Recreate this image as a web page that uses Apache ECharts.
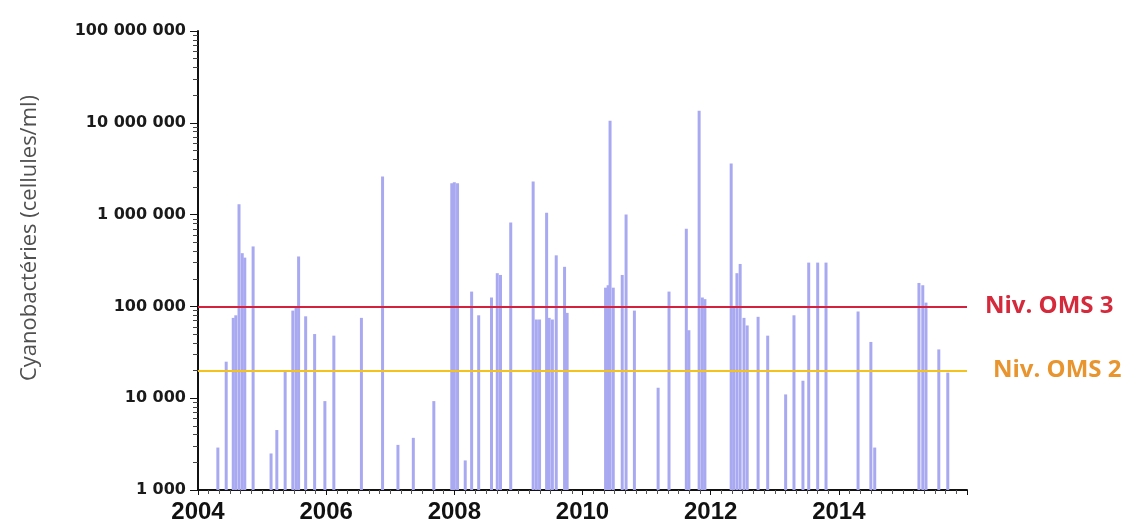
<!DOCTYPE html>
<html>
<head>
<meta charset="utf-8">
<script src="https://cdn.jsdelivr.net/npm/echarts@6/dist/echarts.min.js"></script>
<style>
  html, body { margin: 0; padding: 0; background: #fff; }
  #main { width: 1131px; height: 532px; }
</style>
</head>
<body>
<div id="main"></div>
<script>
// sample dates (decimal years) and counts
var sampleYears = [
  2004.31, 2004.44, 2004.55, 2004.59, 2004.64, 2004.69, 2004.73, 2004.86,
  2005.14, 2005.23, 2005.36, 2005.48, 2005.53, 2005.57, 2005.68, 2005.82, 2005.98,
  2006.12, 2006.55, 2006.88, 2007.12, 2007.36, 2007.68, 2007.96, 2008.00, 2008.05,
  2008.17, 2008.27, 2008.38, 2008.58, 2008.67, 2008.72, 2008.88,
  2009.23, 2009.28, 2009.33, 2009.44, 2009.48, 2009.53, 2009.59, 2009.72, 2009.76,
  2010.36, 2010.40, 2010.43, 2010.48, 2010.62, 2010.68, 2010.81,
  2011.18, 2011.35, 2011.62, 2011.66, 2011.82, 2011.87, 2011.91,
  2012.32, 2012.36, 2012.41, 2012.46, 2012.52, 2012.57, 2012.74, 2012.89,
  2013.17, 2013.30, 2013.44, 2013.53, 2013.67, 2013.80,
  2014.30, 2014.50, 2014.56, 2015.25, 2015.31, 2015.36, 2015.56, 2015.70
];
var sampleCounts = [
  2900, 25000, 75000, 80000, 1300000, 380000, 340000, 450000,
  2500, 4500, 20000, 90000, 100000, 350000, 78000, 50000, 9300,
  48000, 75000, 2600000, 3100, 3700, 9300, 2200000, 2250000, 2200000,
  2100, 145000, 80000, 125000, 230000, 220000, 820000,
  2300000, 72000, 72000, 1050000, 75000, 72000, 360000, 270000, 85000,
  160000, 170000, 10500000, 160000, 220000, 1000000, 90000,
  13000, 145000, 700000, 55000, 13500000, 125000, 120000,
  3600000, 100000, 230000, 290000, 75000, 62000, 77000, 48000,
  11000, 80000, 15500, 300000, 300000, 300000,
  88000, 41000, 2900, 180000, 170000, 110000, 34000, 19000
];

var yearTicks = [2004, 2006, 2008, 2010, 2012, 2014];
var omsLevels = [100000, 20000];
var omsNames = ['Niv. OMS 3', 'Niv. OMS 2'];

var chart = echarts.init(document.getElementById('main'));

function spaced(v) {
  return String(Math.round(v)).replace(/\B(?=(\d{3})+(?!\d))/g, ' ');
}

var option = {
  backgroundColor: '#fff',
  animation: false,
  grid: { left: 198, right: 164, top: 31, bottom: 42 },
  xAxis: {
    type: 'value',
    min: 2004,
    max: 2016,
    interval: 2,
    splitLine: { show: false },
    axisLine: { lineStyle: { color: '#111', width: 2 } },
    axisTick: { show: true, length: 5, lineStyle: { color: '#111' } },
    minorTick: { show: true, splitNumber: 12, length: 4, lineStyle: { color: '#555' } },
    axisLabel: {
      margin: 10,
      color: '#111',
      fontFamily: 'Liberation Sans',
      fontWeight: 'bold',
      fontSize: 24,
      formatter: function (v) { return yearTicks.indexOf(v) >= 0 ? String(v) : ''; }
    }
  },
  yAxis: {
    type: 'log',
    logBase: 10,
    min: 1000,
    max: 100000000,
    splitLine: { show: false },
    axisLine: { show: true, lineStyle: { color: '#111', width: 2 } },
    axisTick: { show: true, length: 8, lineStyle: { color: '#111' } },
    minorTick: { show: true, splitNumber: 9, length: 5, lineStyle: { color: '#444' } },
    axisLabel: {
      margin: 12,
      color: '#1a1a1a',
      fontFamily: 'DejaVu Sans',
      fontWeight: 'bold',
      fontSize: 16,
      formatter: spaced
    }
  },
  graphic: [{
    type: 'text',
    x: 30,
    y: 238,
    rotation: Math.PI / 2,
    style: {
      text: 'Cyanobactéries (cellules/ml)',
      fill: '#505050',
      font: '22px "Open Sans"',
      textAlign: 'center',
      textVerticalAlign: 'middle'
    }
  }],
  series: [{
    type: 'bar',
    barWidth: 3,
    itemStyle: { color: '#a9a9f2' },
    data: sampleYears.map(function (y, i) { return [y, sampleCounts[i]]; }),
    markLine: {
      silent: true,
      symbol: 'none',
      data: [
        {
          yAxis: omsLevels[0],
          lineStyle: { color: '#d4213d', width: 2, type: 'solid' },
          label: {
            position: 'end', distance: 18, formatter: omsNames[0],
            color: '#d42a3c', fontFamily: 'Open Sans', fontWeight: 'bold', fontSize: 24,
            padding: [0, 0, 20, 0]
          }
        },
        {
          yAxis: omsLevels[1],
          lineStyle: { color: '#f4c21c', width: 2, type: 'solid' },
          label: {
            position: 'end', distance: 26, formatter: omsNames[1],
            color: '#e8952f', fontFamily: 'Open Sans', fontWeight: 'bold', fontSize: 24,
            padding: [0, 0, 18, 0]
          }
        }
      ]
    }
  }]
};

chart.setOption(option);
</script>
</body>
</html>
